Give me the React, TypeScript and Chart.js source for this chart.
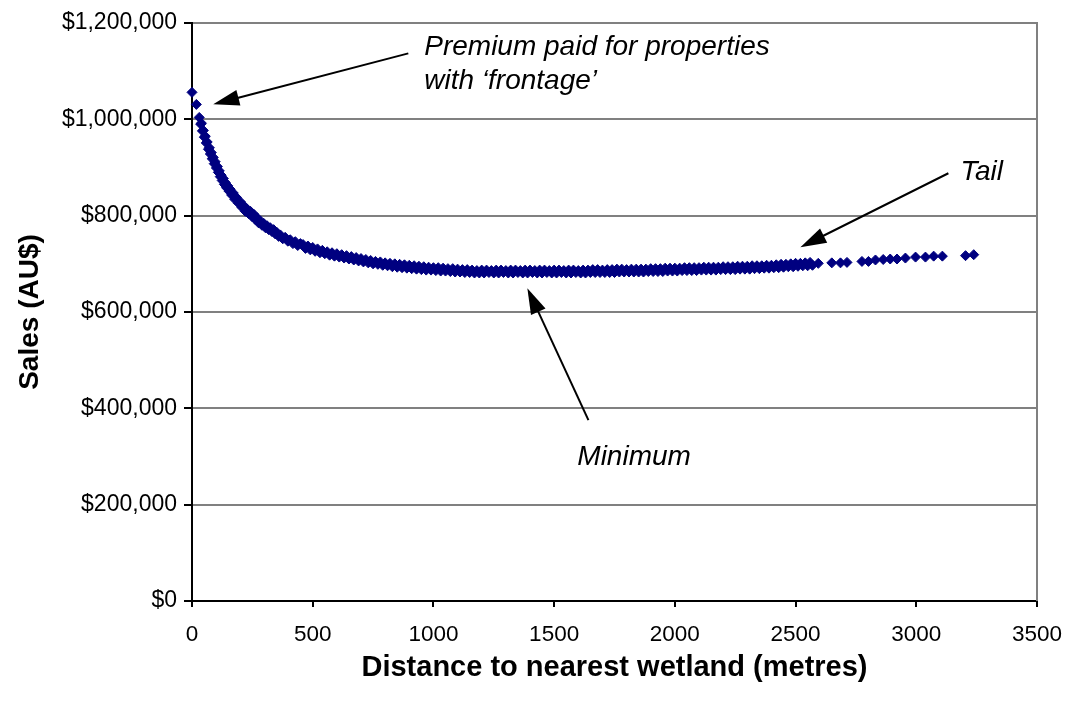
import React, { useEffect, useRef } from 'react';
import { Chart, registerables } from 'chart.js';

Chart.register(...registerables);

// Properties close to a wetland: distance (m) and sale price (AU$)
const nearDistance = [
  0, 18, 30, 36, 39, 43, 47, 51, 55, 59,
  63, 68, 72, 76, 80, 84, 88, 92, 96, 101,
  105, 109, 113, 117, 121, 125, 130, 134, 138, 143,
  148, 153, 158, 164, 171, 177, 184, 192, 200, 207,
  214, 221, 228, 235, 242, 249, 256, 262, 269, 276,
  283, 290, 297, 304, 311, 318, 324, 331, 338, 345,
  352, 359, 366, 376, 386, 397, 407, 418, 428, 438,
  449,
];
const nearSales = [
  1056000, 1031000, 1004000, 990000, 992000, 976000, 977000, 963000, 965000, 951000,
  953000, 938000, 941000, 928000, 931000, 918000, 921000, 908000, 912000, 899000,
  902000, 890000, 893000, 881000, 884000, 873000, 877000, 865000, 869000, 858000,
  862000, 851000, 855000, 843000, 847000, 834000, 838000, 826000, 829000, 817000,
  821000, 809000, 814000, 804000, 809000, 798000, 803000, 792000, 796000, 785000,
  789000, 780000, 784000, 775000, 779000, 771000, 775000, 767000, 771000, 762000,
  765000, 757000, 760000, 752000, 755000, 747000, 750000, 742000, 746000, 738000,
  742000,
];

// Properties in the trough of the curve: distance (m) and sale price (AU$)
const midDistance = [
  460, 470, 480, 490, 500, 510, 520, 530, 540, 550,
  560, 570, 580, 590, 600, 610, 620, 630, 640, 650,
  660, 670, 680, 690, 700, 710, 720, 730, 740, 750,
  760, 770, 780, 790, 800, 810, 820, 830, 840, 850,
  860, 870, 880, 890, 900, 910, 920, 930, 940, 950,
  960, 970, 980, 990, 1000, 1010, 1020, 1030, 1040, 1050,
  1060, 1070, 1080, 1090, 1100, 1110, 1120, 1130, 1140, 1150,
  1160, 1170, 1180, 1190, 1200, 1210, 1220, 1230, 1240, 1250,
  1260, 1270, 1280, 1290, 1300, 1310, 1320, 1330, 1340, 1350,
  1360, 1370, 1380, 1390, 1400, 1410, 1420, 1430, 1440, 1450,
  1460, 1470, 1480, 1490, 1500, 1510, 1520, 1530, 1540, 1550,
  1560, 1570, 1580, 1590, 1600, 1610, 1620, 1630, 1640, 1650,
  1660, 1670, 1680, 1690, 1700, 1710, 1720, 1730, 1740, 1750,
  1760, 1770, 1780, 1790, 1800, 1810, 1820, 1830, 1840, 1850,
  1860, 1870, 1880, 1890, 1900, 1910, 1920, 1930, 1940, 1950,
  1960, 1970, 1980, 1990, 2000, 2010, 2020, 2030, 2040, 2050,
  2060, 2070, 2080, 2090, 2100, 2110, 2120, 2130, 2140, 2150,
  2160, 2170, 2180, 2190, 2200, 2210, 2220, 2230, 2240, 2250,
  2260, 2270, 2280, 2290, 2300, 2310, 2320, 2330, 2340, 2350,
  2360, 2370, 2380, 2390, 2400, 2410, 2420, 2430, 2440, 2450,
  2460, 2470, 2480, 2490, 2500, 2510, 2520, 2530, 2540, 2550,
  2560, 2570,
];
const midSales = [
  740000, 732000, 737000, 729000, 734000, 726000, 731000, 723000, 728000, 721000,
  725000, 718000, 723000, 716000, 721000, 714000, 719000, 712000, 717000, 710000,
  715000, 708000, 713000, 706000, 711000, 704000, 709000, 702000, 707000, 700000,
  705000, 699000, 704000, 697000, 702000, 696000, 701000, 694000, 700000, 693000,
  699000, 692000, 698000, 691000, 697000, 690000, 696000, 689000, 695000, 688000,
  694000, 687000, 693000, 687000, 692000, 686000, 692000, 685000, 691000, 685000,
  690000, 684000, 690000, 683000, 689000, 683000, 688000, 682000, 688000, 682000,
  687000, 681000, 686000, 681000, 687000, 681000, 687000, 682000, 686000, 681000,
  687000, 681000, 687000, 682000, 686000, 681000, 687000, 681000, 687000, 682000,
  686000, 681000, 687000, 681000, 687000, 682000, 686000, 681000, 687000, 681000,
  687000, 682000, 686000, 681000, 687000, 681000, 687000, 682000, 686000, 681000,
  687000, 681000, 687000, 682000, 686000, 681000, 687000, 681000, 687000, 682000,
  688000, 682000, 688000, 682000, 687000, 682000, 688000, 682000, 688000, 682000,
  689000, 683000, 689000, 683000, 688000, 683000, 689000, 683000, 689000, 683000,
  689000, 683000, 689000, 684000, 690000, 684000, 690000, 684000, 690000, 684000,
  691000, 685000, 691000, 685000, 691000, 685000, 691000, 686000, 692000, 686000,
  692000, 686000, 692000, 686000, 692000, 687000, 693000, 687000, 693000, 687000,
  693000, 687000, 693000, 688000, 694000, 688000, 694000, 688000, 694000, 688000,
  695000, 689000, 695000, 689000, 695000, 689000, 696000, 690000, 696000, 690000,
  696000, 691000, 697000, 691000, 697000, 692000, 698000, 692000, 699000, 693000,
  699000, 694000, 700000, 694000, 701000, 695000, 701000, 696000, 702000, 696000,
  703000, 697000,
];

// The sparse tail of distant properties: distance (m) and sale price (AU$)
const farDistance = [
  2594, 2650, 2686, 2713, 2775, 2802, 2831, 2863, 2892, 2920,
  2955, 2997, 3038, 3072, 3108, 3204, 3238,
];
const farSales = [
  701000, 702000, 702000, 703000, 705000, 705000, 708000, 709000, 710000, 710000,
  712000, 714000, 714000, 716000, 716000, 717000, 719000,
];

// Axis ranges
const xRange = { min: 0, max: 3500, step: 500 };
const yRange = { min: 0, max: 1200000, step: 200000 };

// Callout texts, anchored in data units (left edge, baseline)
const calloutTexts = [
  { text: 'Premium paid for properties', at: [962, 1133000] },
  { text: 'with \u2018frontage\u2019', at: [962, 1062400] },
  { text: 'Tail', at: [3183, 873600] },
  { text: 'Minimum', at: [1596, 282200] },
];

// Callout arrows, from start point to arrow tip, in data units
const calloutArrows = [
  { from: [896, 1137000], to: [88, 1031300] },
  { from: [3133, 888100], to: [2520, 734500] },
  { from: [1642, 375600], to: [1389, 649500] },
];

const FONT = '"Liberation Sans", Arial, Helvetica, sans-serif';

const calloutPlugin = {
  id: 'callouts',
  beforeDatasetsDraw(chart: any) {
    const { ctx, chartArea } = chart;
    ctx.save();
    ctx.strokeStyle = '#808080';
    ctx.lineWidth = 2;
    const xr = Math.round(chartArea.right);
    ctx.beginPath();
    ctx.moveTo(xr, chartArea.top - 1);
    ctx.lineTo(xr, chartArea.bottom);
    ctx.stroke();
    ctx.restore();
  },
  afterDatasetsDraw(chart: any) {
    const { ctx } = chart;
    const sx = chart.scales.x;
    const sy = chart.scales.y;
    ctx.save();
    ctx.fillStyle = '#000';
    ctx.font = `italic 28px ${FONT}`;
    ctx.textAlign = 'left';
    ctx.textBaseline = 'alphabetic';
    for (const c of calloutTexts) {
      ctx.fillText(c.text, sx.getPixelForValue(c.at[0]), sy.getPixelForValue(c.at[1]));
    }
    const headLen = 26;
    const headHalf = 8;
    ctx.strokeStyle = '#000';
    ctx.lineWidth = 2;
    for (const a of calloutArrows) {
      const x0 = sx.getPixelForValue(a.from[0]);
      const y0 = sy.getPixelForValue(a.from[1]);
      const x1 = sx.getPixelForValue(a.to[0]);
      const y1 = sy.getPixelForValue(a.to[1]);
      const len = Math.hypot(x1 - x0, y1 - y0);
      const ux = (x1 - x0) / len;
      const uy = (y1 - y0) / len;
      const bx = x1 - ux * headLen;
      const by = y1 - uy * headLen;
      ctx.beginPath();
      ctx.moveTo(x0, y0);
      ctx.lineTo(bx + ux * 2, by + uy * 2);
      ctx.stroke();
      ctx.beginPath();
      ctx.moveTo(x1, y1);
      ctx.lineTo(bx - uy * headHalf, by + ux * headHalf);
      ctx.lineTo(bx + uy * headHalf, by - ux * headHalf);
      ctx.closePath();
      ctx.fill();
    }
    ctx.restore();
  },
};

const toPoints = (xs: number[], ys: number[]) => xs.map((d, i) => ({ x: d, y: ys[i] }));

export default function App() {
  const canvasRef = useRef<HTMLCanvasElement | null>(null);

  useEffect(() => {
    if (!canvasRef.current) return;
    const points = [
      ...toPoints(nearDistance, nearSales),
      ...toPoints(midDistance, midSales),
      ...toPoints(farDistance, farSales),
    ];
    const chart = new Chart(canvasRef.current, {
      type: 'scatter',
      data: {
        datasets: [
          {
            label: 'Sales',
            data: points,
            pointStyle: 'rectRot',
            pointRadius: 5,
            pointBorderWidth: 1,
            backgroundColor: '#000080',
            borderColor: '#000080',
            clip: false as any,
          },
        ],
      },
      options: {
        animation: false,
        responsive: true,
        maintainAspectRatio: false,
        events: [],
        layout: { padding: { top: 23, right: 31, bottom: 0, left: 0 } },
        plugins: {
          legend: { display: false },
          tooltip: { enabled: false },
        },
        scales: {
          x: {
            type: 'linear',
            min: xRange.min,
            max: xRange.max,
            afterFit: (s: any) => {
              s.height = 108;
              s.paddingLeft = 0;
              s.paddingRight = 0;
            },
            ticks: {
              stepSize: xRange.step,
              color: '#000',
              padding: 14,
              font: { family: FONT, size: 22.5 },
              callback: (v: any) => String(v),
            },
            grid: {
              drawOnChartArea: false,
              drawTicks: true,
              tickLength: 6,
              tickColor: '#000',
              lineWidth: 2,
              tickWidth: 2,
            },
            border: { color: '#000', width: 2 },
            title: {
              display: true,
              text: 'Distance to nearest wetland (metres)',
              color: '#000',
              font: { family: FONT, size: 29, weight: 'bold' },
              padding: { top: 0, bottom: 24 },
            },
          },
          y: {
            type: 'linear',
            min: yRange.min,
            max: yRange.max,
            afterFit: (s: any) => {
              s.width = 192;
              s.paddingTop = 0;
              s.paddingBottom = 0;
            },
            ticks: {
              stepSize: yRange.step,
              color: '#000',
              padding: 7,
              font: { family: FONT, size: 23 },
              callback: (v: any) => '$' + Number(v).toLocaleString('en-US'),
            },
            grid: {
              color: (c: any) => (c.tick && c.tick.value === 0 ? 'rgba(0,0,0,0)' : '#808080'),
              lineWidth: 2,
              drawTicks: true,
              tickLength: 8,
              tickColor: '#000',
              tickWidth: 2,
            },
            border: { color: '#000', width: 2 },
            title: {
              display: true,
              text: 'Sales (AU$)',
              color: '#000',
              font: { family: FONT, size: 28, weight: 'bold' },
              padding: { top: 13, bottom: 0 },
            },
          },
        },
      },
      plugins: [calloutPlugin],
    });
    return () => chart.destroy();
  }, []);

  return (
    <div style={{ position: 'absolute', left: 0, top: 0, width: 1068, height: 709, background: '#fff' }}>
      <canvas ref={canvasRef} />
    </div>
  );
}
